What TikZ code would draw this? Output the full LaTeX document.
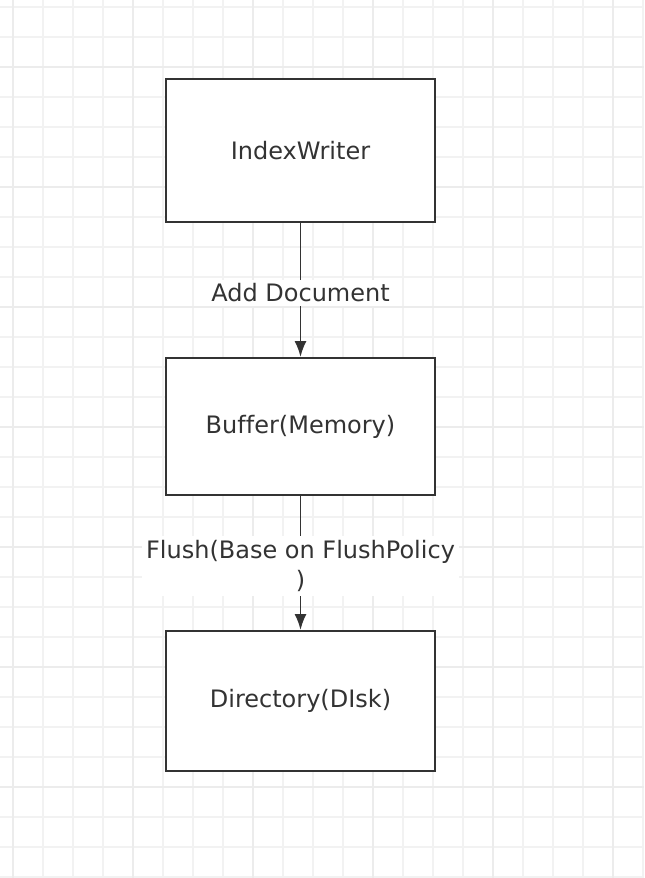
\documentclass[tikz,border=0pt]{standalone}
\usepackage{fontspec}
\setmainfont[Ligatures=NoCommon]{DejaVu Sans}
\usepackage{xcolor}
\usetikzlibrary{arrows.meta}
\definecolor{ink}{RGB}{51,51,51}
\definecolor{gridminor}{RGB}{242,242,242}
\definecolor{gridmajor}{RGB}{236,236,236}
\tikzstyle{box}=[draw=ink, line width=1pt, minimum width=134.5pt, text=ink, font=\fontsize{12}{15}\selectfont]
\tikzset{flow/.style={-{Latex[length=8pt,width=6pt]}, line width=0.9pt, draw=ink}}
\tikzstyle{tag}=[fill=white, text=ink, inner sep=2pt, align=center, yshift=-1.5pt, font=\fontsize{12}{15}\selectfont]

\begin{document}
\begin{tikzpicture}[x=0.5pt,y=-0.5pt]
  \useasboundingbox (0,0) rectangle (644,878);
  \fill[white] (0,0) rectangle (644,878);

  %% Background grid
  \foreach \gx in {13,43,...,643} {
    \draw[gridminor, line width=1pt] (\gx,0) -- (\gx,878);
  }
  \foreach \gy in {7,37,...,877} {
    \draw[gridminor, line width=1pt] (0,\gy) -- (644,\gy);
  }
  \foreach \gx in {13,133,...,643} {
    \draw[gridmajor, line width=1pt] (\gx,0) -- (\gx,878);
  }
  \foreach \gy in {67,187,...,877} {
    \draw[gridmajor, line width=1pt] (0,\gy) -- (644,\gy);
  }

  \draw (300.5,150.5) node[box, minimum height=71.5pt, fill=white] (writer) {IndexWriter};
  \draw (300.5,426.5) node[box, minimum height=68.5pt, fill=white] (buffer) {Buffer(Memory)};
  \draw (300.5,701) node[box, minimum height=70pt, fill=white] (directory) {Directory(DIsk)};

  \draw[flow] (writer) -- (buffer) node[midway, tag] {Add Document};
  \draw[flow] (buffer) -- (directory) node[midway, tag] {Flush(Base on FlushPolicy\\)};
\end{tikzpicture}
\end{document}
